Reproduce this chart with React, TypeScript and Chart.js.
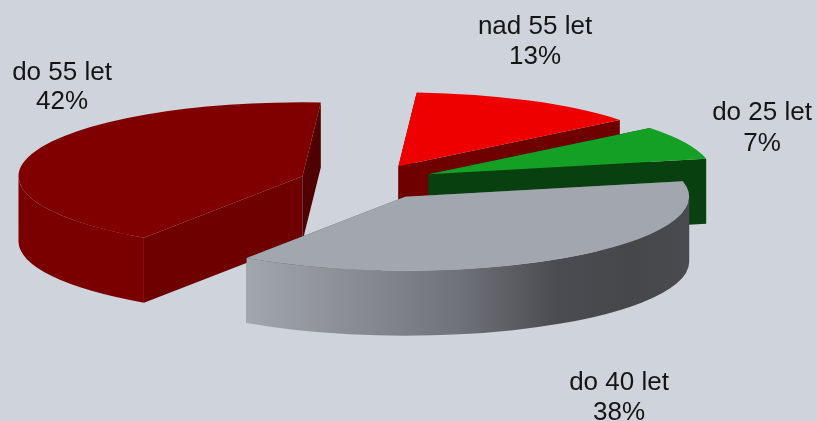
import React, { useEffect, useRef } from "react";
import { Chart, registerables } from "chart.js";

Chart.register(...registerables);

// Data, in drawing (clockwise) order starting just right of twelve o'clock
const categories = ["nad 55 let", "do 25 let", "do 40 let", "do 55 let"];
const shares = [13.2, 7.4, 37.8, 41.6];

// Styles
const topColors = ["#EE0000", "#14A024", "#A2A6AF", "#800000"];
const startWallColors = ["#6E0000", "#08400F", "#5A5C61", "#6E0000"];
const endWallColors = ["#6E0000", "#08400F", "#5A5C61", "#4F0000"];
const outerWallColors = ["#6E0000", "#08400F", "", "#7A0000"];
const BG = "#CFD3DB";

// 3D projection of the pie
const VIEW = {
  cx: 367,
  cy: 182,
  rx: 284,
  ry: 74,
  depth: 65,
  explode: 0.24,
  rotation: 3.7,
};

// Label layout: centre x, baselines of the two lines
const labelLayout = [
  { x: 535, y1: 34, y2: 64 },
  { x: 762, y1: 120, y2: 151 },
  { x: 619, y1: 390, y2: 420 },
  { x: 62, y1: 80, y2: 109 },
];

const pie3d = {
  id: "pie3d",
  beforeDatasetDraw(chart: any) {
    const { ctx } = chart;
    const arcs: any[] = chart.getDatasetMeta(0).data;
    const { cx, cy, rx, ry, depth, explode } = VIEW;
    const items = arcs.map((arc, i) => {
      const mid = (arc.startAngle + arc.endAngle) / 2;
      const ax = cx + Math.cos(mid) * explode * rx;
      const ay = cy + Math.sin(mid) * explode * ry;
      return { arc, i, ax, ay };
    });
    items.sort((a, b) => a.ay - b.ay);

    for (const { arc, i, ax, ay } of items) {
      const a0 = arc.startAngle;
      const a1 = arc.endAngle;
      const px = (a: number) => ax + Math.cos(a) * rx;
      const py = (a: number) => ay + Math.sin(a) * ry;

      const wall = (a: number, color: string) => {
        ctx.beginPath();
        ctx.moveTo(ax, ay);
        ctx.lineTo(px(a), py(a));
        ctx.lineTo(px(a), py(a) + depth);
        ctx.lineTo(ax, ay + depth);
        ctx.closePath();
        ctx.fillStyle = color;
        ctx.fill();
      };
      wall(a0, startWallColors[i]);
      wall(a1, endWallColors[i]);

      // Outer rim: only the part that faces the viewer
      const f0 = Math.max(a0, 0);
      const f1 = Math.min(a1, Math.PI);
      if (f1 > f0) {
        ctx.beginPath();
        ctx.ellipse(ax, ay, rx, ry, 0, f0, f1);
        ctx.ellipse(ax, ay + depth, rx, ry, 0, f1, f0, true);
        ctx.closePath();
        if (outerWallColors[i]) {
          ctx.fillStyle = outerWallColors[i];
        } else {
          const g = ctx.createLinearGradient(px(f1), 0, px(f0), 0);
          g.addColorStop(0, "#A2A6AD");
          g.addColorStop(0.28, "#85888F");
          g.addColorStop(0.48, "#6F7279");
          g.addColorStop(0.7, "#4B4C51");
          g.addColorStop(0.87, "#46474B");
          g.addColorStop(1, "#4A4B50");
          ctx.fillStyle = g;
        }
        ctx.fill();
      }

      // Top face: the library's own arc element, under the projection
      ctx.save();
      ctx.translate(ax, ay);
      ctx.scale(rx / arc.outerRadius, ry / arc.outerRadius);
      ctx.translate(-arc.x, -arc.y);
      arc.draw(ctx);
      ctx.restore();
    }
    return false;
  },
  afterDraw(chart: any) {
    const { ctx } = chart;
    ctx.save();
    ctx.font = '26px "Liberation Sans", Arial, sans-serif';
    ctx.fillStyle = "#151515";
    ctx.textAlign = "center";
    ctx.textBaseline = "alphabetic";
    categories.forEach((name, i) => {
      const l = labelLayout[i];
      ctx.fillText(name, l.x, l.y1);
      ctx.fillText(`${Math.round(shares[i])}%`, l.x, l.y2);
    });
    ctx.restore();
  },
};

export default function App() {
  const ref = useRef<HTMLCanvasElement>(null);
  useEffect(() => {
    const chart = new Chart(ref.current as HTMLCanvasElement, {
      type: "pie",
      data: {
        labels: categories,
        datasets: [
          {
            data: shares,
            backgroundColor: topColors,
            borderWidth: 0,
          },
        ],
      },
      options: {
        animation: false,
        responsive: false,
        rotation: VIEW.rotation,
        layout: { padding: 0 },
        plugins: {
          legend: { display: false },
          tooltip: { enabled: false },
        },
      },
      plugins: [pie3d],
    } as any);
    return () => chart.destroy();
  }, []);
  return (
    <div
      style={{
        position: "absolute",
        left: 0,
        top: 0,
        width: 817,
        height: 421,
        overflow: "hidden",
        background: BG,
      }}
    >
      <canvas ref={ref} width={817} height={421} style={{ display: "block" }} />
    </div>
  );
}
